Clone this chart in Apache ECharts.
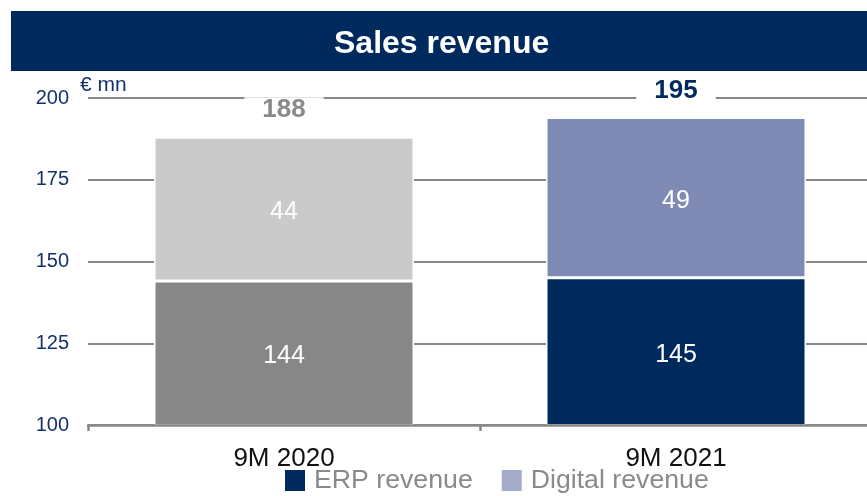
<!DOCTYPE html>
<html>
<head>
<meta charset="utf-8">
<script src="https://cdn.jsdelivr.net/npm/echarts@6/dist/echarts.min.js"></script>
<style>
html,body{margin:0;padding:0;background:#fff;}
#c{width:867px;height:496px;}
</style>
</head>
<body>
<div id="c"></div>
<script>
const categories = ['9M 2020', '9M 2021'];
const erpRevenue = [144, 145];
const digitalRevenue = [44, 49];
const totals = [188, 195];
const yTicks = [100, 125, 150, 175, 200];
const seriesNames = ['ERP revenue', 'Digital revenue'];

const NAVY = '#002a5e';
const erpColors = ['#878787', NAVY];
const digitalColors = ['#cacaca', '#7f8bb5'];
const totalColors = ['#8a8a8a', NAVY];
const FONT = 'Liberation Sans, Arial, sans-serif';

const chart = echarts.init(document.getElementById('c'), null, {renderer: 'canvas'});

const innerLabel = {show: true, position: 'inside', offset: [0, 3], color: '#fff', fontSize: 25, fontFamily: FONT};
const barStyle = {borderColor: '#fff', borderWidth: 1.5};

chart.setOption({
  animation: false,
  backgroundColor: '#fff',
  textStyle: {fontFamily: FONT},
  graphic: [
    {type: 'rect', left: 11, top: 11, shape: {width: 856, height: 60}, style: {fill: NAVY}, z: 10},
    {type: 'text', left: 334, top: 28, style: {text: 'Sales revenue', fill: '#fff', font: 'bold 32px ' + FONT}, z: 11},
    {type: 'text', left: 80, top: 75, style: {text: '€ mn', fill: '#13336a', font: '21px ' + FONT}, z: 11}
  ],
  grid: {left: 88, top: 98, width: 784, height: 327, containLabel: false, outerBoundsMode: 'none'},
  legend: {
    data: seriesNames,
    left: 283, top: 467, padding: 0,
    itemWidth: 22, itemHeight: 23, itemGap: 27,
    icon: 'rect',
    textStyle: {color: '#8a8a8a', fontSize: 26.7, fontFamily: FONT, padding: [0, 0, 0, 3]}
  },
  xAxis: {
    type: 'category',
    data: categories,
    z: 5,
    axisLine: {lineStyle: {color: '#888', width: 2.5}},
    axisTick: {show: true, length: 6, lineStyle: {color: '#888', width: 2.5}},
    axisLabel: {color: '#111', fontSize: 26, margin: 21, fontFamily: FONT},
    splitLine: {show: false}
  },
  yAxis: {
    type: 'value',
    min: yTicks[0], max: yTicks[yTicks.length - 1], interval: 25,
    axisLine: {show: false},
    axisTick: {show: false},
    axisLabel: {color: '#13336a', fontSize: 20, margin: 19, fontFamily: FONT},
    splitLine: {lineStyle: {color: '#888', width: 2}}
  },
  series: [
    {
      name: seriesNames[0], type: 'bar', stack: 'rev', barWidth: 260,
      itemStyle: Object.assign({color: NAVY}, barStyle),
      label: innerLabel,
      data: erpRevenue.map((v, i) => ({value: v, itemStyle: {color: erpColors[i]}}))
    },
    {
      name: seriesNames[1], type: 'bar', stack: 'rev', barWidth: 260,
      itemStyle: Object.assign({color: '#a3acca'}, barStyle),
      label: innerLabel,
      data: digitalRevenue.map((v, i) => ({value: v, itemStyle: {color: digitalColors[i]}}))
    },
    {
      name: 'Total', type: 'scatter', symbolSize: 0, z: 4,
      itemStyle: {opacity: 1},
      data: erpRevenue.map((v, i) => ({
        value: v + digitalRevenue[i],
        label: {color: totalColors[i]}
      })),
      label: {
        show: true, position: 'top', distance: 14, opacity: 1,
        formatter: p => String(totals[p.dataIndex]),
        fontSize: 26, fontWeight: 'bold', fontFamily: FONT,
        lineHeight: 26,
        backgroundColor: '#fff', padding: [0, 18]
      }
    }
  ]
});
</script>
</body>
</html>
